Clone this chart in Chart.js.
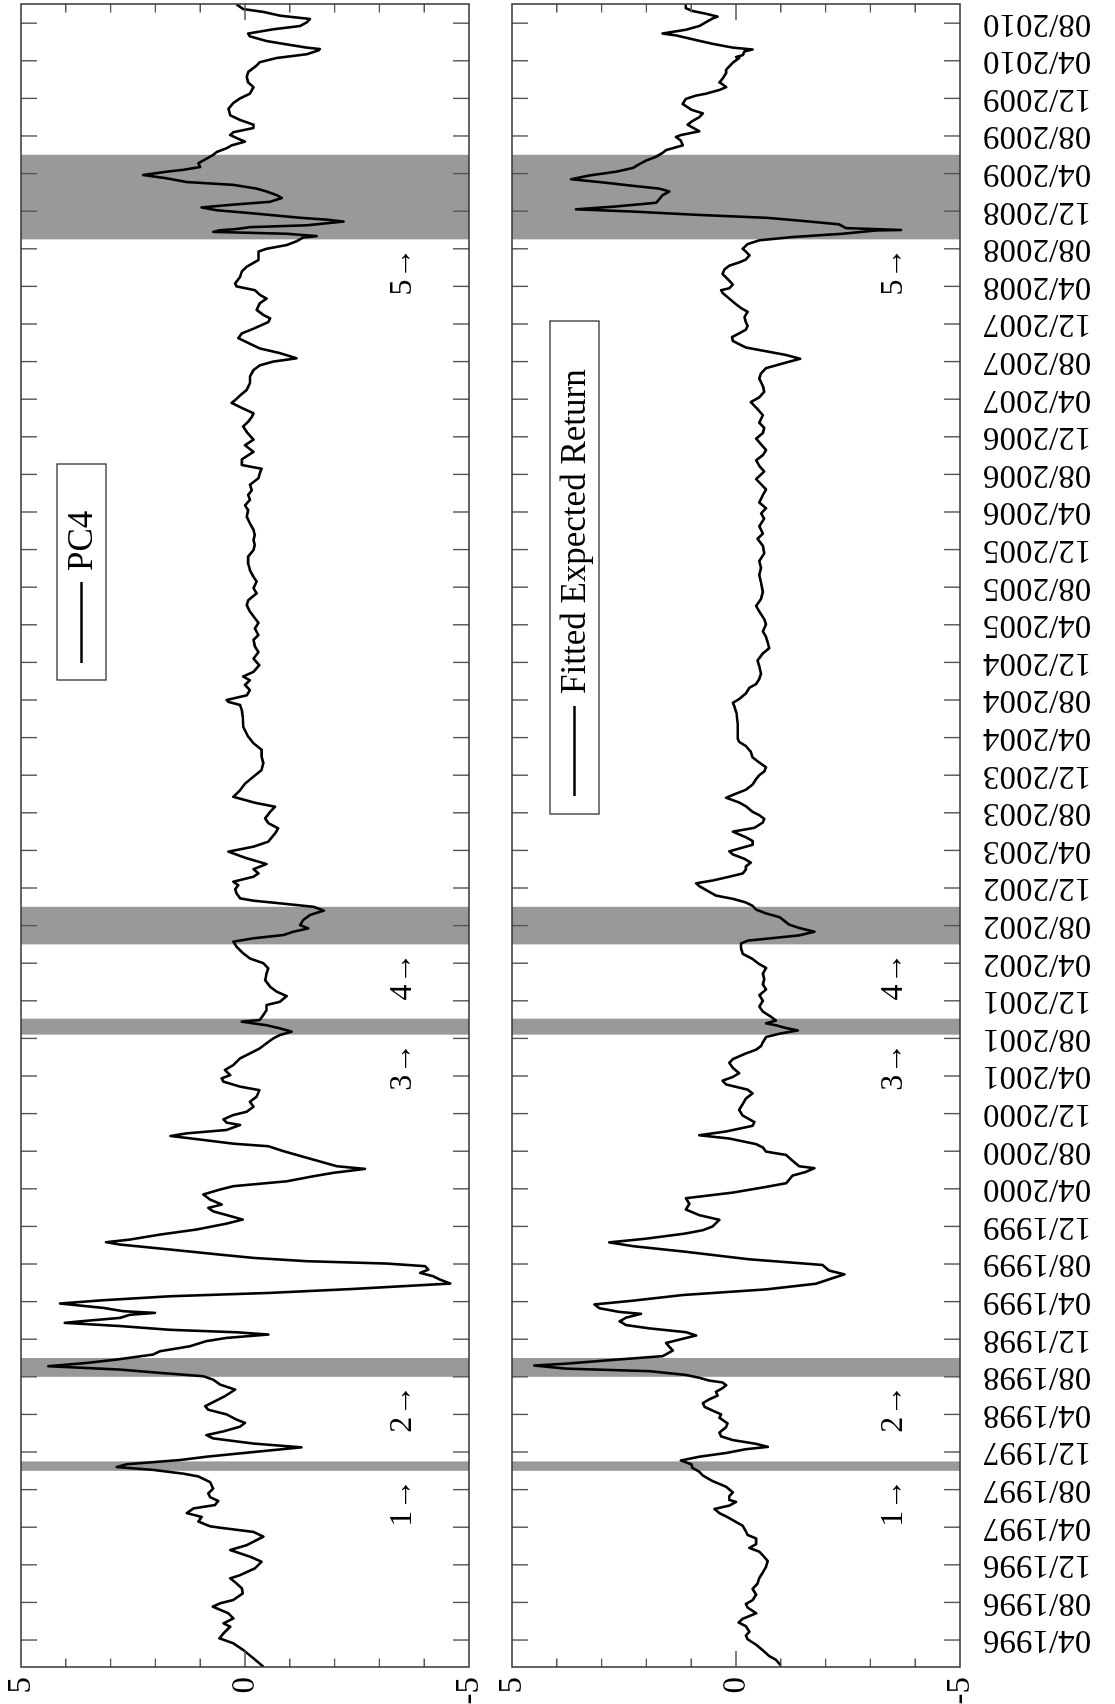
<!DOCTYPE html>
<html>
<head>
<meta charset="utf-8">
<script src="https://cdn.jsdelivr.net/npm/chart.js@4.4.1/dist/chart.umd.min.js"></script>
<style>
  html, body { margin: 0; padding: 0; background: #fff; overflow: hidden; }
  body { width: 1115px; height: 1704px; position: relative; }
  /* the figure is drawn landscape and turned a quarter left, like the source */
  #page { position: absolute; left: 0; top: 0; width: 1704px; height: 1115px;
          transform-origin: 0 0; transform: translate(0, 1704px) rotate(-90deg); }
  #topBox { position: absolute; left: 0; top: 0; }
  #botBox { position: absolute; left: 0; top: 490px; }
</style>
</head>
<body>
<div id="page">
  <div id="topBox"><canvas id="pcChart" width="1704" height="490"></canvas></div>
  <div id="botBox"><canvas id="fitChart" width="1704" height="625"></canvas></div>
</div>
<script>
// time axis is in months counted from 04/1996
const monthLabels = [
  '04/1996', '08/1996', '12/1996', '04/1997', '08/1997', '12/1997', '04/1998', '08/1998',
  '12/1998', '04/1999', '08/1999', '12/1999', '04/2000', '08/2000', '12/2000', '04/2001',
  '08/2001', '12/2001', '04/2002', '08/2002', '12/2002', '04/2003', '08/2003', '12/2003',
  '04/2004', '08/2004', '12/2004', '04/2005', '08/2005', '12/2005', '04/2006', '08/2006',
  '12/2006', '04/2007', '08/2007', '12/2007', '04/2008', '08/2008', '12/2008', '04/2009',
  '08/2009', '12/2009', '04/2010', '08/2010'
];
const valueTicks = [-5, 0, 5];

const crisisStart = [18, 28, 64.4, 74, 149];
const crisisEnd = [19, 30, 66.1, 78, 158];
const crisisLabels = ['1\u2192', '2\u2192', '3\u2192', '4\u2192', '5\u2192'];

const pc4Months = [
  -2.84, -1.95, -1.06, -0.35, 0.18, 0.71, 1.42, 1.77, 2.3, 2.84, 3.55, 3.9, 4.26, 4.96, 5.5, 6.03,
  6.56, 6.9, 7.62, 8.33, 8.87, 9.57, 10.1, 11.0, 11.5, 11.95, 12.1, 12.6, 13.1, 13.5, 14.0, 14.36,
  14.8, 15.2, 15.6, 16.1, 16.8, 17.4, 17.7, 18.1, 18.4, 18.7, 19.15, 19.5, 20.0, 20.5, 20.9, 21.45,
  21.8, 22.2, 22.7, 23.1, 23.45, 24.0, 24.5, 24.87, 25.94, 26.64, 27.18, 27.7, 28.06, 28.42, 28.77, 29.13,
  29.48, 29.84, 30.37, 30.72, 31.25, 31.8, 32.14, 32.5, 32.74, 33.0, 33.4, 33.74, 33.9, 34.27, 34.6, 34.8,
  34.98, 35.33, 35.8, 36.15, 36.57, 36.93, 37.35, 37.92, 38.35, 38.7, 39.06, 39.4, 39.77, 40.05, 40.3, 40.65,
  41.0, 41.54, 42.07, 42.32, 42.6, 43.13, 43.67, 44.3, 44.73, 45.26, 45.6, 45.97, 46.33, 46.86, 47.4, 47.92,
  48.28, 48.8, 49.34, 49.7, 50.12, 50.4, 51.3, 52.0, 52.53, 52.8, 53.24, 53.62, 53.9, 54.26, 54.79, 55.04,
  55.39, 55.85, 56.2, 56.74, 57.27, 57.8, 58.5, 58.87, 59.4, 59.75, 60.1, 60.64, 61.17, 61.88, 62.4, 62.94,
  63.48, 64.0, 64.36, 64.72, 65.07, 65.4, 65.78, 65.96, 66.5, 67.0, 67.55, 67.9, 68.5, 68.97, 69.5, 70.2,
  70.9, 71.45, 72.0, 72.5, 73.05, 73.76, 74.3, 74.65, 75.0, 75.35, 75.7, 76.06, 76.6, 77.13, 77.6, 78.0,
  78.37, 78.65, 78.9, 79.43, 79.86, 80.3, 80.67, 81.2, 81.56, 82.0, 82.55, 83.16, 83.87, 84.4, 84.93, 85.8,
  86.35, 86.9, 87.4, 88.1, 88.65, 89.07, 89.7, 90.4, 91.1, 91.85, 92.55, 93.26, 94.0, 94.7, 95.4, 96.1,
  97.16, 98.2, 98.9, 99.47, 99.8, 100.0, 100.5, 101.06, 101.6, 102.1, 102.5, 103.0, 103.7, 104.4, 105.1, 105.7,
  106.4, 106.9, 107.6, 108.2, 108.9, 109.4, 110.1, 110.6, 111.35, 111.9, 112.6, 113.1, 113.8, 114.5, 115.25, 115.96,
  116.5, 117.0, 117.55, 118.1, 118.8, 119.5, 120.2, 120.7, 121.3, 121.8, 122.3, 122.9, 123.6, 124.1, 124.6, 125.0,
  125.6, 126.4, 127.1, 127.7, 128.5, 129.1, 129.6, 130.1, 130.5, 131.0, 131.6, 131.9, 132.4, 133.0, 133.7, 134.4,
  135.1, 135.6, 136.0, 136.35, 136.9, 137.4, 137.9, 138.5, 139.0, 139.5, 140.2, 140.6, 140.96, 141.5, 142.2, 142.7,
  143.1, 143.6, 144.0, 144.3, 145.0, 145.6, 146.1, 146.8, 147.2, 147.7, 148.0, 148.4, 148.8, 149.2, 149.35, 149.6,
  149.8, 149.97, 150.1, 150.3, 150.5, 150.9, 151.1, 151.3, 151.8, 152.1, 152.4, 152.7, 153.0, 153.4, 153.7, 154.1,
  154.4, 154.8, 155.1, 155.5, 155.85, 156.2, 156.4, 156.7, 157.1, 157.4, 157.98, 158.3, 158.7, 159.0, 159.4, 159.7,
  160.1, 160.4, 160.85, 161.2, 161.7, 162.2, 162.9, 163.5, 164.0, 164.5, 165.2, 165.7, 166.3, 166.8, 167.5, 167.85,
  168.3, 168.7, 169.1, 169.25, 169.4, 169.8, 170.1, 170.6, 170.9, 171.35, 171.7, 172.1, 172.45, 172.8, 173.2, 173.5,
  174.0
];
const pc4Values = [
  -0.41, -0.19, 0.04, 0.26, 0.57, 0.48, 0.33, 0.48, 0.26, 0.37, 0.72, 0.56, 0.26, 0.05, 0.07, 0.19,
  0.33, 0.11, -0.22, -0.37, -0.11, 0.33, -0.04, -0.41, -0.19, 0.56, 0.78, 1.04, 0.97, 1.3, 1.15, 0.67,
  0.6, 0.78, 0.82, 0.71, 0.78, 1.04, 1.38, 2.05, 2.86, 2.64, 1.45, 0.86, -0.19, -1.26, -0.19, 0.71,
  0.86, 0.48, 0.11, 0.0, 0.19, 0.41, 0.82, 0.89, 0.45, 0.22, 0.56, 0.71, 0.93, 1.9, 2.79, 4.39,
  3.53, 2.86, 2.05, 1.9, 1.23, 0.86, 0.41, -0.52, 0.19, 1.67, 2.79, 4.02, 3.68, 2.79, 2.57, 2.01,
  2.72, 3.16, 4.13, 3.16, 1.67, -0.56, -2.42, -4.58, -4.35, -4.2, -3.91, -4.09, -4.02, -3.16, -1.38, -0.19,
  0.56, 1.67, 2.79, 3.1, 2.57, 1.9, 1.08, 0.41, 0.05, 0.45, 0.71, 0.82, 0.52, 0.78, 0.93, 0.56,
  0.26, -0.93, -1.53, -1.97, -2.68, -2.05, -1.38, -0.86, -0.52, 0.26, 1.0, 1.66, 1.3, 0.41, 0.11, 0.41,
  0.48, 0.26, -0.04, -0.19, -0.11, -0.26, -0.32, 0.11, 0.48, 0.52, 0.33, 0.45, 0.26, 0.11, -0.11, -0.33,
  -0.48, -0.63, -0.78, -1.04, -0.78, -0.48, 0.07, -0.33, -0.41, -0.48, -0.48, -0.78, -0.93, -0.71, -0.56, -0.45,
  -0.48, -0.52, -0.41, -0.11, 0.04, 0.19, 0.26, -0.19, -0.86, -1.08, -1.41, -1.23, -1.3, -1.45, -1.76, -1.53,
  -0.78, -0.19, 0.11, 0.19, 0.22, 0.15, 0.26, -0.19, -0.3, -0.19, -0.48, -0.04, 0.37, -0.19, -0.52, -0.67,
  -0.74, -0.52, -0.45, -0.56, -0.67, -0.22, 0.26, 0.11, 0.0, -0.19, -0.37, -0.41, -0.37, -0.37, -0.19, -0.07,
  0.04, 0.05, 0.07, 0.11, 0.37, 0.41, -0.04, -0.11, 0.0, -0.11, 0.04, -0.19, -0.32, -0.19, -0.3, -0.22,
  -0.19, -0.3, -0.22, -0.3, -0.19, -0.11, -0.04, -0.07, -0.26, -0.19, -0.26, -0.19, -0.11, -0.07, -0.07, -0.19,
  -0.22, -0.19, -0.22, -0.19, -0.11, -0.04, -0.07, 0.0, -0.11, -0.07, -0.15, -0.11, -0.3, -0.33, -0.37, 0.07,
  0.07, -0.19, 0.0, -0.19, -0.04, 0.04, -0.07, -0.15, -0.19, 0.04, 0.3, 0.22, 0.11, -0.04, -0.11, -0.11,
  -0.19, -0.33, -0.63, -1.15, -0.78, -0.33, -0.11, 0.15, 0.07, -0.19, -0.52, -0.56, -0.41, -0.26, -0.33, -0.48,
  -0.33, -0.22, 0.19, 0.22, 0.11, 0.07, -0.04, -0.3, -0.3, -0.3, -0.48, -0.93, -1.15, -1.3, -1.6, -0.93,
  0.71, 0.56, 0.19, -0.11, -1.38, -2.2, -1.82, -1.23, -0.11, 0.63, 0.97, 0.26, -0.56, -0.82, -0.71, -0.48,
  -0.26, 0.26, 1.3, 1.75, 2.27, 1.75, 1.38, 1.0, 1.04, 0.93, 0.71, 0.63, 0.41, 0.3, 0.0, 0.15,
  0.33, 0.26, -0.19, -0.19, 0.11, 0.33, 0.37, 0.26, 0.11, -0.11, -0.19, -0.07, -0.04, -0.07, -0.26, -0.33,
  -0.71, -1.38, -1.64, -1.67, -1.38, -0.86, -0.48, -0.11, -0.07, -0.63, -1.23, -1.38, -1.45, -0.78, -0.41, 0.04,
  0.19
];

const fittedMonths = [
  -2.69, -2.1, -1.7, -1.1, -0.5, 0.08, 0.48, 0.87, 1.47, 1.86, 2.26, 2.85, 3.45, 3.84, 4.24, 4.83,
  5.43, 6.0, 6.6, 7.2, 7.8, 8.4, 9.0, 9.4, 9.8, 10.2, 10.8, 11.17, 11.56, 12.16, 12.75, 13.15,
  13.5, 13.94, 14.14, 14.3, 14.7, 14.9, 15.3, 15.7, 16.3, 16.9, 17.5, 17.9, 18.3, 18.7, 19.1, 19.5,
  19.9, 20.3, 20.55, 20.87, 21.27, 21.66, 22.06, 22.65, 23.05, 23.64, 24.0, 24.4, 24.8, 25.2, 25.6, 26.0,
  26.4, 26.8, 27.1, 27.4, 27.6, 27.9, 28.2, 28.6, 28.87, 29.2, 29.4, 29.8, 30.2, 30.4, 30.8, 31.2,
  31.6, 31.96, 32.4, 32.75, 33.15, 33.5, 33.9, 34.3, 34.7, 34.9, 35.3, 35.7, 36.1, 36.7, 37.3, 37.9,
  38.5, 38.9, 39.3, 39.9, 40.5, 41.3, 41.9, 42.3, 42.7, 43.25, 43.6, 44.0, 44.7, 45.2, 45.8, 46.4,
  47.0, 47.6, 48.2, 48.6, 49.4, 49.8, 50.2, 50.4, 51.0, 51.6, 51.96, 52.4, 52.75, 53.35, 53.7, 54.1,
  54.7, 55.1, 55.8, 56.4, 57.0, 57.6, 58.15, 58.55, 59.1, 59.5, 59.9, 60.3, 60.86, 61.4, 61.8, 62.4,
  62.8, 63.2, 63.6, 64.15, 64.5, 64.85, 65.1, 65.4, 65.6, 65.9, 66.3, 66.85, 67.4, 68.0, 68.6, 69.2,
  69.75, 70.3, 70.9, 71.5, 71.9, 72.45, 73.0, 73.6, 74.1, 74.4, 74.6, 74.96, 75.35, 75.75, 76.1, 76.5,
  76.9, 77.3, 77.7, 78.1, 78.46, 78.85, 79.2, 79.6, 80.2, 80.5, 80.8, 81.2, 81.55, 81.95, 82.3, 82.7,
  83.1, 83.57, 83.9, 84.3, 84.6, 85.0, 85.4, 86.0, 86.4, 86.97, 87.36, 87.75, 88.1, 88.7, 89.1, 89.6,
  89.9, 90.45, 91.0, 91.6, 92.0, 92.4, 92.85, 93.35, 93.9, 94.5, 95.1, 95.55, 95.9, 96.6, 97.4, 98.6,
  99.35, 99.7, 100.1, 100.7, 101.3, 101.7, 102.25, 102.8, 103.6, 104.2, 104.96, 105.5, 106.1, 106.7, 107.3, 108.05,
  108.6, 109.4, 110.0, 110.76, 111.5, 112.5, 113.3, 114.05, 114.8, 115.6, 116.4, 117.15, 117.7, 118.5, 119.3, 119.85,
  120.4, 121.0, 121.8, 122.4, 122.95, 123.5, 124.3, 124.9, 125.5, 126.05, 126.6, 127.2, 127.8, 128.4, 128.95, 129.5,
  130.3, 131.1, 131.7, 132.2, 132.8, 133.4, 134.2, 134.75, 135.3, 135.9, 136.3, 136.7, 137.1, 137.5, 137.85, 138.2,
  138.6, 139.0, 139.4, 139.8, 140.2, 140.75, 141.3, 141.7, 142.1, 142.7, 143.3, 143.6, 143.8, 144.2, 144.8, 145.3,
  145.8, 146.2, 146.55, 146.85, 147.3, 147.7, 148.0, 148.5, 148.9, 149.25, 149.6, 149.95, 150.0, 150.2, 150.6, 151.0,
  151.3, 151.6, 151.96, 152.2, 152.5, 152.9, 153.3, 153.7, 154.1, 154.4, 154.7, 155.1, 155.4, 155.8, 156.2, 156.6,
  157.0, 157.4, 157.8, 158.2, 158.5, 159.0, 159.5, 159.9, 160.1, 160.5, 160.9, 161.2, 161.6, 162.0, 162.4, 162.8,
  163.4, 163.95, 164.3, 164.5, 164.9, 165.2, 165.5, 165.7, 166.1, 166.7, 167.05, 167.4, 167.8, 168.3, 168.4, 168.6,
  169.0, 169.2, 169.4, 169.8, 170.2, 170.7, 170.9, 171.3, 171.7, 172.1, 172.5, 172.7, 173.0, 173.3, 173.6, 174.0
];
const fittedValues = [
  -1.0, -0.89, -0.74, -0.6, -0.45, -0.26, -0.22, -0.3, -0.22, -0.06, -0.15, -0.45, -0.26, -0.22, -0.37, -0.45,
  -0.37, -0.48, -0.52, -0.6, -0.67, -0.71, -0.6, -0.52, -0.3, -0.45, -0.45, -0.26, -0.22, -0.15, 0.07, 0.22,
  0.37, 0.48, 0.3, 0.15, 0.0, 0.15, 0.15, 0.07, 0.22, 0.52, 0.74, 0.82, 0.97, 1.0, 1.23, 0.82,
  0.22, -0.22, -0.71, -0.45, 0.07, 0.33, 0.37, 0.22, 0.19, 0.37, 0.33, 0.52, 0.7, 0.74, 0.6, 0.41,
  0.45, 0.3, 0.22, 0.3, 0.6, 0.82, 1.12, 1.93, 3.79, 4.5, 3.79, 2.75, 1.64, 1.56, 1.41, 1.49,
  1.56, 1.26, 0.89, 1.12, 1.93, 2.45, 2.6, 2.45, 2.12, 2.6, 3.05, 3.16, 2.3, 1.19, -0.67, -1.78,
  -2.16, -2.42, -2.08, -1.93, -0.3, 1.12, 2.3, 2.83, 2.0, 1.12, 0.74, 0.52, 0.37, 0.82, 1.12, 1.04,
  1.12, 0.07, -0.67, -1.12, -1.26, -1.56, -1.75, -1.41, -1.26, -1.12, -0.67, -0.6, -0.45, 0.15, 0.82, 0.22,
  -0.37, -0.41, -0.15, -0.07, -0.15, -0.22, -0.37, -0.26, 0.22, 0.3, 0.07, -0.07, 0.07, 0.15, 0.07, -0.22,
  -0.45, -0.56, -0.6, -0.67, -0.97, -1.38, -1.12, -0.89, -0.67, -0.89, -0.78, -0.6, -0.52, -0.6, -0.52, -0.67,
  -0.6, -0.63, -0.6, -0.67, -0.52, -0.37, -0.15, -0.11, -0.11, -0.26, -0.67, -1.41, -1.75, -1.41, -1.19, -1.08,
  -0.97, -0.67, -0.45, -0.37, -0.22, 0.07, 0.45, 0.6, 0.82, 0.89, 0.52, 0.15, -0.15, -0.22, -0.22, -0.33,
  -0.19, 0.07, 0.15, -0.15, -0.37, -0.37, -0.22, 0.07, -0.41, -0.6, -0.63, -0.52, -0.37, -0.22, -0.07, 0.22,
  0.07, -0.22, -0.37, -0.45, -0.52, -0.63, -0.67, -0.52, -0.37, -0.33, -0.22, -0.07, -0.04, -0.04, -0.04, -0.01,
  0.04, 0.07, -0.07, -0.22, -0.3, -0.45, -0.52, -0.56, -0.52, -0.48, -0.6, -0.74, -0.71, -0.67, -0.6, -0.67,
  -0.63, -0.52, -0.45, -0.56, -0.6, -0.56, -0.52, -0.56, -0.52, -0.63, -0.6, -0.48, -0.6, -0.52, -0.63, -0.56,
  -0.67, -0.52, -0.6, -0.67, -0.56, -0.45, -0.63, -0.52, -0.45, -0.6, -0.67, -0.56, -0.45, -0.6, -0.63, -0.52,
  -0.6, -0.45, -0.33, -0.52, -0.63, -0.6, -0.52, -0.56, -0.67, -1.12, -1.43, -1.12, -0.67, -0.22, -0.07, 0.07,
  0.09, -0.07, -0.22, -0.26, -0.22, -0.19, -0.26, -0.11, 0.0, 0.15, 0.3, 0.33, 0.15, 0.07, 0.19, 0.3,
  0.26, 0.15, -0.07, -0.22, -0.3, -0.22, -0.15, -0.26, -0.52, -1.26, -2.38, -3.12, -3.68, -2.45, -2.3, -1.41,
  -0.67, 0.82, 2.3, 3.57, 2.68, 1.78, 1.71, 1.64, 1.49, 1.71, 2.3, 3.05, 3.68, 3.27, 2.68, 2.3,
  2.16, 2.0, 1.78, 1.64, 1.56, 1.19, 1.23, 1.34, 1.23, 0.82, 0.97, 1.08, 0.97, 0.82, 0.74, 1.0,
  1.19, 1.12, 0.89, 0.67, 0.37, 0.22, 0.3, 0.37, 0.3, 0.22, 0.22, 0.15, 0.07, -0.07, 0.0, -0.15,
  -0.19, -0.37, 0.07, 0.52, 0.89, 1.34, 1.64, 1.12, 0.82, 0.67, 0.52, 0.41, 0.67, 0.97, 1.12, 1.12
];

const X_MIN = -2.87;
const X_MAX = 174.04;
const SERIF = '"Liberation Serif", "DejaVu Serif", serif';

function toPoints(months, values) {
    return months.map((m, i) => ({ x: m, y: values[i] }));
}

// tick labels must not push the plot area in: clear the padding Chart.js asks for
function clearPadding(scale) {
    scale.paddingLeft = 0;
    scale.paddingRight = 0;
    scale.paddingTop = 0;
    scale.paddingBottom = 0;
}

// bands behind the line, then frame, inward ticks, crisis marks and legend on top
function panelDecor(legend) {
    return {
        id: 'panelDecor',
        beforeDatasetsDraw(chart) {
            const { ctx, chartArea: a, scales: { x } } = chart;
            ctx.save();
            ctx.fillStyle = '#999999';
            crisisStart.forEach((start, i) => {
                const x0 = x.getPixelForValue(start);
                const x1 = x.getPixelForValue(crisisEnd[i]);
                ctx.fillRect(x0, a.top, x1 - x0, a.bottom - a.top);
            });
            ctx.restore();
        },
        afterDatasetsDraw(chart) {
            const { ctx, chartArea: a, scales: { x, y } } = chart;
            ctx.save();

            ctx.strokeStyle = '#555';
            ctx.lineWidth = 1.4;
            ctx.beginPath();
            monthLabels.forEach((_, i) => {
                const px = x.getPixelForValue(i * 4);
                ctx.moveTo(px, a.top);
                ctx.lineTo(px, a.top + 16);
                ctx.moveTo(px, a.bottom);
                ctx.lineTo(px, a.bottom - 16);
            });
            for (let v = -4; v <= 4; v++) {
                const py = y.getPixelForValue(v);
                const len = v === 0 ? 16 : 8.5;
                ctx.moveTo(a.left, py);
                ctx.lineTo(a.left + len, py);
                ctx.moveTo(a.right, py);
                ctx.lineTo(a.right - len, py);
            }
            ctx.stroke();

            ctx.strokeStyle = '#333';
            ctx.lineWidth = 1.5;
            ctx.strokeRect(a.left, a.top, a.right - a.left, a.bottom - a.top);

            ctx.fillStyle = '#000';
            ctx.font = '32px ' + SERIF;
            ctx.textAlign = 'right';
            ctx.textBaseline = 'middle';
            crisisStart.forEach((start, i) => {
                ctx.fillText(crisisLabels[i], x.getPixelForValue(start) - 8, a.bottom - 66);
            });

            // legend box
            const top = a.top + legend.offset;
            ctx.fillStyle = '#fff';
            ctx.fillRect(legend.left, top, legend.right - legend.left, 49);
            ctx.strokeStyle = '#333';
            ctx.lineWidth = 1.3;
            ctx.strokeRect(legend.left, top, legend.right - legend.left, 49);
            ctx.strokeStyle = '#000';
            ctx.lineWidth = 2.4;
            ctx.beginPath();
            ctx.moveTo(legend.lineFrom, top + 24.5);
            ctx.lineTo(legend.lineTo, top + 24.5);
            ctx.stroke();
            ctx.fillStyle = '#000';
            ctx.font = '35px ' + SERIF;
            ctx.textAlign = 'left';
            ctx.fillText(legend.text, legend.textX, top + 26);

            ctx.restore();
        }
    };
}

function panelOptions(showDates, padding) {
    return {
        responsive: false,
        animation: false,
        devicePixelRatio: 1,
        layout: { autoPadding: false, padding: padding },
        plugins: { legend: { display: false }, tooltip: { enabled: false } },
        scales: {
            x: {
                type: 'linear',
                min: X_MIN,
                max: X_MAX,
                display: showDates,
                grid: { display: false, drawTicks: false },
                border: { display: false },
                afterBuildTicks: (scale) => {
                    scale.ticks = monthLabels.map((_, i) => ({ value: i * 4 }));
                },
                afterFit: (scale) => {
                    scale.height = showDates ? 155 : 0;
                    clearPadding(scale);
                },
                ticks: {
                    autoSkip: false,
                    minRotation: 90,
                    maxRotation: 90,
                    padding: 23,
                    color: '#000',
                    font: { family: SERIF, size: 33 },
                    callback: (value) => monthLabels[Math.round(value / 4)]
                }
            },
            y: {
                min: -5,
                max: 5,
                grid: { display: false, drawTicks: false },
                border: { display: false },
                afterBuildTicks: (scale) => {
                    scale.ticks = valueTicks.map(v => ({ value: v }));
                },
                afterFit: (scale) => {
                    scale.width = 37;
                    clearPadding(scale);
                },
                ticks: {
                    padding: 10,
                    color: '#000',
                    font: { family: SERIF, size: 33 },
                    callback: (value) => String(value)
                }
            }
        }
    };
}

function lineDataset(label, months, values) {
    return {
        label: label,
        data: toPoints(months, values),
        borderColor: '#000',
        borderWidth: 2.6,
        borderJoinStyle: 'round',
        pointRadius: 0,
        tension: 0,
        fill: false
    };
}

new Chart(document.getElementById('pcChart'), {
    type: 'line',
    data: { datasets: [lineDataset('PC4', pc4Months, pc4Values)] },
    options: panelOptions(false, { top: 21, right: 4, bottom: 21, left: 0 }),
    plugins: [panelDecor({ text: 'PC4', offset: 36, left: 1024, right: 1240, lineFrom: 1041, lineTo: 1122, textX: 1133 })]
});

new Chart(document.getElementById('fitChart'), {
    type: 'line',
    data: { datasets: [lineDataset('Fitted Expected Return', fittedMonths, fittedValues)] },
    options: panelOptions(true, { top: 22, right: 4, bottom: 0, left: 0 }),
    plugins: [panelDecor({ text: 'Fitted Expected Return', offset: 38, left: 890, right: 1383, lineFrom: 908, lineTo: 998, textX: 1010 })]
});
</script>
</body>
</html>
